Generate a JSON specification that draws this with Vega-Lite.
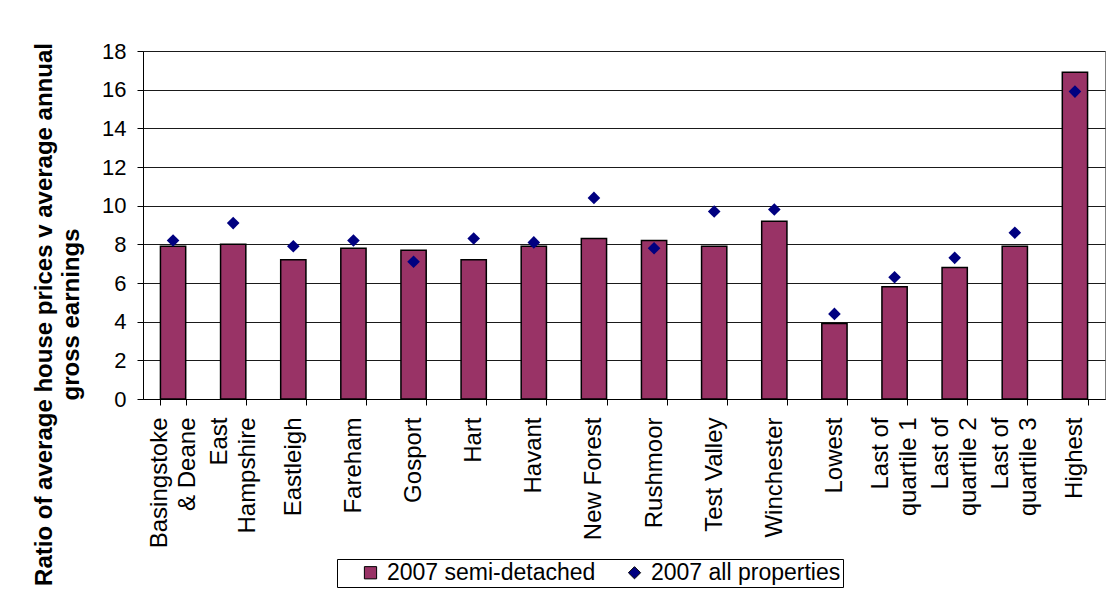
{
  "$schema": "https://vega.github.io/schema/vega-lite/v6.json",
  "width": 962,
  "height": 348,
  "autosize": {"type": "none"},
  "padding": {"left": 143, "top": 51, "right": 2, "bottom": 198},
  "background": "white",
  "config": {
    "font": "Liberation Sans",
    "view": {"stroke": "#808080", "strokeWidth": 1},
    "axis": {"labelFont": "Liberation Sans", "titleFont": "Liberation Sans", "labelColor": "black", "titleColor": "black", "domainColor": "black", "tickColor": "black"}
  },
  "data": {
    "values": [
      {"area": "Basingstoke & Deane", "series": "2007 semi-detached", "ratio": 7.9},
      {"area": "East Hampshire", "series": "2007 semi-detached", "ratio": 8.0},
      {"area": "Eastleigh", "series": "2007 semi-detached", "ratio": 7.2},
      {"area": "Fareham", "series": "2007 semi-detached", "ratio": 7.8},
      {"area": "Gosport", "series": "2007 semi-detached", "ratio": 7.7},
      {"area": "Hart", "series": "2007 semi-detached", "ratio": 7.2},
      {"area": "Havant", "series": "2007 semi-detached", "ratio": 7.9},
      {"area": "New Forest", "series": "2007 semi-detached", "ratio": 8.3},
      {"area": "Rushmoor", "series": "2007 semi-detached", "ratio": 8.2},
      {"area": "Test Valley", "series": "2007 semi-detached", "ratio": 7.9},
      {"area": "Winchester", "series": "2007 semi-detached", "ratio": 9.2},
      {"area": "Lowest", "series": "2007 semi-detached", "ratio": 3.9},
      {"area": "Last of quartile 1", "series": "2007 semi-detached", "ratio": 5.8},
      {"area": "Last of quartile 2", "series": "2007 semi-detached", "ratio": 6.8},
      {"area": "Last of quartile 3", "series": "2007 semi-detached", "ratio": 7.9},
      {"area": "Highest", "series": "2007 semi-detached", "ratio": 16.9},
      {"area": "Basingstoke & Deane", "series": "2007 all properties", "ratio": 8.2},
      {"area": "East Hampshire", "series": "2007 all properties", "ratio": 9.1},
      {"area": "Eastleigh", "series": "2007 all properties", "ratio": 7.9},
      {"area": "Fareham", "series": "2007 all properties", "ratio": 8.2},
      {"area": "Gosport", "series": "2007 all properties", "ratio": 7.1},
      {"area": "Hart", "series": "2007 all properties", "ratio": 8.3},
      {"area": "Havant", "series": "2007 all properties", "ratio": 8.1},
      {"area": "New Forest", "series": "2007 all properties", "ratio": 10.4},
      {"area": "Rushmoor", "series": "2007 all properties", "ratio": 7.8},
      {"area": "Test Valley", "series": "2007 all properties", "ratio": 9.7},
      {"area": "Winchester", "series": "2007 all properties", "ratio": 9.8},
      {"area": "Lowest", "series": "2007 all properties", "ratio": 4.4},
      {"area": "Last of quartile 1", "series": "2007 all properties", "ratio": 6.3},
      {"area": "Last of quartile 2", "series": "2007 all properties", "ratio": 7.3},
      {"area": "Last of quartile 3", "series": "2007 all properties", "ratio": 8.6},
      {"area": "Highest", "series": "2007 all properties", "ratio": 15.9}
    ]
  },
  "encoding": {
    "x": {
      "field": "area",
      "type": "nominal",
      "sort": null,
      "scale": {"paddingInner": 0.58, "paddingOuter": 0.29},
      "axis": {
        "title": null,
        "orient": "bottom",
        "labelAngle": 270,
        "labelAlign": "right",
        "labelBaseline": "middle",
        "labelPadding": 12,
        "labelFontSize": 24,
        "labelLineHeight": 28,
        "labelLimit": 300,
        "tickSize": 6,
        "tickBand": "extent",
        "labelOffset": {"condition": {"test": "datum.value == 'Basingstoke & Deane' || datum.value == 'East Hampshire' || indexof(datum.value + '', 'quartile') >= 0", "value": -14}, "value": 0},
        "labelExpr": "!isString(datum.value) ? '' : datum.value == 'Basingstoke & Deane' ? ['Basingstoke', '& Deane'] : datum.value == 'East Hampshire' ? ['East', 'Hampshire'] : indexof(datum.value + '', 'quartile') >= 0 ? ['Last of', slice(datum.value, 8)] : datum.value"
      }
    },
    "y": {
      "field": "ratio",
      "type": "quantitative",
      "scale": {"domain": [0, 18], "nice": false},
      "axis": {
        "values": [0, 2, 4, 6, 8, 10, 12, 14, 16, 18],
        "labelOverlap": false,
        "title": ["Ratio of average house prices v average annual", "gross earnings"],
        "titleFontSize": 24,
        "titleFontWeight": "bold",
        "titleLineHeight": 27,
        "titleAngle": 270,
        "titleAlign": "center",
        "titleBaseline": "middle",
        "titleX": -99,
        "titleY": 263,
        "labelFontSize": 22,
        "labelPadding": 11,
        "tickSize": 6,
        "grid": true,
        "gridColor": "#1a1a1a",
        "gridWidth": 1
      }
    }
  },
  "layer": [
    {
      "transform": [{"filter": "datum.series == '2007 semi-detached'"}],
      "mark": {"type": "bar", "stroke": "black", "strokeWidth": 1.5},
      "encoding": {
        "color": {
          "field": "series",
          "type": "nominal",
          "scale": {"domain": ["2007 semi-detached", "2007 all properties"], "range": ["#993366", "#000080"]},
          "legend": {
            "title": " ",
            "titleOrient": "left",
            "titleFontSize": 10,
            "titlePadding": 20,
            "orient": "none",
            "direction": "horizontal",
            "legendX": 194,
            "legendY": 508,
            "padding": 2,
            "strokeColor": "black",
            "fillColor": "white",
            "labelFontSize": 23,
            "labelColor": "black",
            "labelFont": "Liberation Sans",
            "labelLimit": 400,
            "symbolSize": 150,
            "symbolStrokeWidth": 1,
            "labelOffset": 5,
            "columnPadding": 27
          }
        }
      }
    },
    {
      "transform": [{"filter": "datum.series == '2007 all properties'"}],
      "mark": {"type": "point", "filled": true, "size": 160, "opacity": 1},
      "encoding": {
        "color": {"field": "series", "type": "nominal"},
        "shape": {
          "field": "series",
          "type": "nominal",
          "scale": {"domain": ["2007 semi-detached", "2007 all properties"], "range": ["square", "diamond"]},
          "legend": {"title": " "}
        }
      }
    }
  ]
}
